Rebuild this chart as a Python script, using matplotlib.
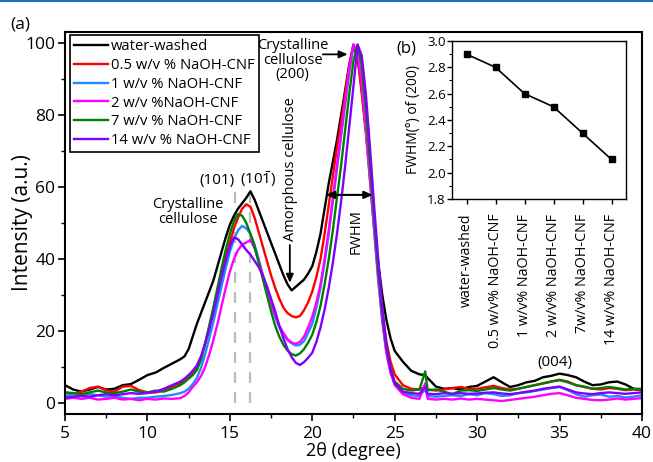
import matplotlib
matplotlib.use('Agg')
import matplotlib.pyplot as plt
from matplotlib.ticker import MultipleLocator
from matplotlib.lines import Line2D

plt.rcParams['font.family'] = ['Open Sans', 'DejaVu Sans']
plt.rcParams['mathtext.fontset'] = 'custom'
plt.rcParams['mathtext.rm'] = 'Open Sans'
plt.rcParams['mathtext.it'] = 'Open Sans:italic'
plt.rcParams['mathtext.bf'] = 'Open Sans:bold'

# ---------------- data ----------------
two_theta = [5.0, 5.5, 6.0, 6.5, 7.0, 7.5, 8.0, 8.5, 9.0, 9.5, 10.0, 10.5, 11.0, 11.5, 12.0,
             12.25, 12.5, 12.75, 13.0, 13.25, 13.5, 13.75, 14.0, 14.25, 14.5, 14.75, 15.0,
             15.25, 15.5, 15.75, 16.0, 16.25, 16.5, 16.75, 17.0, 17.25, 17.5, 17.75, 18.0,
             18.25, 18.5, 18.75, 19.0, 19.25, 19.5, 19.75, 20.0, 20.25, 20.5, 20.75, 21.0,
             21.25, 21.5, 21.75, 22.0, 22.25, 22.5, 22.75, 23.0, 23.25, 23.5, 23.75, 24.0,
             24.25, 24.5, 24.75, 25.0,
             25.5, 26.0, 26.5, 26.85, 27.0, 27.5, 28.0, 28.5, 29.0, 29.5, 30.0, 30.5, 31.0,
             31.5, 32.0, 32.5, 33.0, 33.5, 34.0, 34.5, 35.0, 35.5, 36.0, 36.5, 37.0, 37.5,
             38.0, 38.5, 39.0, 39.5, 40.0]

water_washed = [5.0, 3.8, 3.2, 3.8, 4.5, 3.8, 4.0, 5.0, 5.3, 6.5, 7.8, 8.5, 9.8, 11.0, 12.2,
                13.0, 15.0, 18.5, 22.0, 25.0, 28.0, 31.0, 34.0, 38.0, 42.0, 46.0, 49.5,
                52.0, 54.0, 55.5, 57.0, 58.8, 56.5, 53.5, 50.5, 47.5, 44.5, 41.5, 38.5,
                35.5, 33.0, 31.3, 32.3, 33.3, 34.3, 36.0, 38.0, 42.0, 47.0, 54.0, 61.0,
                67.0, 73.0, 80.0, 87.0, 94.0, 99.5, 96.0, 87.0, 76.0, 64.0, 51.0, 39.0,
                30.0, 23.0, 18.0, 14.5,
                11.5, 9.0, 8.0, 7.8, 7.0, 4.6, 4.0, 4.2, 3.8, 4.5, 4.8, 6.0, 7.2,
                5.8, 4.5, 5.0, 5.8, 6.2, 7.2, 7.6, 8.2, 7.8, 7.2, 6.0, 5.0, 5.2,
                5.8, 6.0, 5.2, 4.0, 3.6]

naoh_05 = [3.0, 2.5, 3.2, 4.2, 4.6, 3.6, 3.2, 4.6, 4.8, 3.6, 3.0, 3.0, 3.5, 4.5, 5.5,
           6.2, 7.0, 8.2, 9.5, 12.5, 16.5, 21.0, 26.0, 31.0, 36.0, 40.5, 44.5,
           48.5, 51.5, 54.0, 55.2, 54.5, 51.5, 47.5, 43.5, 39.5, 35.5, 32.0, 29.0,
           26.5, 25.0, 24.2, 23.8, 24.2, 25.8, 28.0, 31.0, 35.0, 40.0, 47.0, 55.0,
           63.0, 71.0, 78.0, 86.0, 94.0, 99.5, 96.0, 86.0, 75.0, 62.0, 49.0, 36.0,
           25.0, 17.0, 11.5, 8.0,
           5.0, 4.0, 3.8, 4.5, 3.8, 3.5, 3.8, 4.2, 4.5, 4.0, 4.0, 4.4, 4.8,
           4.2, 3.8, 4.0, 4.5, 5.0, 5.5, 6.0, 6.5, 6.0, 5.0, 4.5, 4.0, 3.8,
           4.2, 4.0, 3.6, 3.8, 3.6]

naoh_1 = [2.0, 2.5, 2.0, 2.5, 2.2, 1.8, 2.0, 1.5, 1.2, 1.5, 1.5, 1.8, 2.0, 2.3, 2.8,
          3.2, 4.0, 5.3, 7.0, 9.8, 13.5, 18.0, 22.5, 27.5, 32.5, 37.5, 42.0,
          45.5, 48.0, 49.2, 48.5, 47.0, 44.0, 40.0, 35.5, 31.5, 27.5, 24.0, 21.0,
          19.0, 17.5, 16.6, 16.0, 16.2, 17.2, 19.5, 22.0, 26.5, 32.0, 39.0, 47.0,
          56.0, 65.0, 74.0, 83.0, 92.0, 99.0, 98.0, 89.0, 76.0, 62.0, 48.0, 34.0,
          22.5, 14.0, 8.5, 5.5,
          3.0, 2.2, 2.0, 3.8, 2.0, 1.8, 2.0, 2.2, 2.0, 2.5, 2.2, 2.8, 2.5,
          2.0, 2.2, 2.8, 3.0, 3.4, 3.8, 4.2, 4.5, 3.6, 2.5, 1.8, 2.2, 2.4,
          1.8, 2.0, 1.6, 1.8, 2.2]

naoh_2 = [1.2, 1.5, 1.2, 1.5, 1.0, 1.2, 1.5, 1.0, 1.2, 0.8, 1.2, 1.0, 1.3, 1.2, 1.4,
          2.0, 3.0, 4.5, 5.8, 7.5, 10.0, 13.5, 17.5, 22.0, 27.0, 32.0, 36.5,
          40.0, 42.5, 44.0, 44.6, 45.3, 43.0, 39.5, 35.5, 31.5, 28.0, 24.5, 21.5,
          19.5, 17.8, 16.8, 16.5, 17.0, 18.5, 21.0, 24.0, 28.0, 33.0, 40.0, 48.0,
          57.0, 66.0, 75.0, 84.0, 93.0, 99.5, 97.5, 89.0, 77.0, 63.0, 49.0, 35.0,
          23.0, 14.0, 8.5, 5.0,
          2.5, 1.5, 1.2, 5.5, 1.2, 1.0, 1.2, 1.0, 1.3, 1.0, 1.2, 1.0, 0.8,
          0.6, 0.9, 1.2, 1.5, 1.8, 2.2, 2.6, 2.8, 2.2, 1.5, 1.2, 0.9, 0.8,
          1.0, 1.3, 1.0, 1.2, 1.4]

naoh_7 = [3.0, 2.8, 2.5, 3.0, 3.5, 3.0, 2.8, 3.2, 3.8, 3.2, 3.0, 3.5, 3.2, 4.0, 5.0,
          5.8, 6.8, 7.8, 9.2, 12.0, 16.5, 21.5, 26.5, 32.0, 37.5, 42.5, 47.0,
          50.5, 52.5, 52.0, 50.0, 47.0, 43.5, 39.0, 34.5, 30.0, 25.5, 21.5, 18.5,
          16.2, 14.6, 13.6, 13.2, 13.8, 15.0, 16.8, 19.0, 22.5, 27.0, 33.0, 40.0,
          48.0, 57.0, 66.0, 76.0, 86.0, 95.0, 99.5, 94.0, 82.0, 67.0, 52.0, 37.0,
          25.0, 15.5, 9.5, 6.0,
          4.0, 3.5, 3.8, 8.8, 3.6, 3.8, 3.2, 2.5, 3.5, 3.6, 3.4, 3.8, 4.2,
          3.8, 3.5, 4.0, 4.5, 5.0, 5.5, 6.0, 6.4, 5.8, 5.0, 4.6, 4.0, 4.2,
          4.5, 4.2, 3.8, 4.0, 4.0]

naoh_14 = [1.5, 1.8, 2.0, 1.8, 2.2, 2.5, 2.2, 2.5, 2.8, 2.6, 2.8, 3.2, 4.0, 5.0, 6.0,
           6.8, 7.8, 9.0, 10.5, 13.0, 16.5, 20.5, 25.0, 30.0, 35.0, 39.5, 43.5,
           46.0, 45.5, 44.0, 42.5, 41.2, 39.5, 37.8, 35.5, 32.5, 29.0, 25.5, 21.5,
           18.0, 15.0, 12.8, 11.2, 10.6, 11.4, 12.6, 14.0, 17.0, 21.0, 26.0, 32.0,
           39.0, 47.0, 56.0, 66.0, 77.0, 88.0, 99.5, 96.5, 86.0, 71.0, 55.0, 40.0,
           26.5, 16.0, 9.5, 5.5,
           3.2, 2.8, 2.6, 4.5, 2.6, 2.5, 2.8, 2.6, 2.8, 2.6, 2.7, 2.9, 3.0,
           2.7, 2.5, 2.8, 3.2, 3.5, 4.0, 4.3, 4.6, 3.8, 3.0, 2.7, 2.5, 2.8,
           3.0, 2.8, 2.6, 2.8, 3.0]

series_labels = ['water-washed', '0.5 w/v % NaOH-CNF', '1 w/v % NaOH-CNF',
                 '2 w/v %NaOH-CNF', '7 w/v % NaOH-CNF', '14 w/v % NaOH-CNF']
series_colors = ['#000000', '#ff0000', '#1e8cff', '#ff00ff', '#008000', '#8000ff']

inset_labels = ['water-washed', '0.5 w/v% NaOH-CNF', '1 w/v% NaOH-CNF',
                '2 w/v% NaOH-CNF', '7w/v% NaOH-CNF', '14 w/v% NaOH-CNF']
fwhm_200 = [2.9, 2.8, 2.6, 2.5, 2.3, 2.1]

# ---------------- figure ----------------
fig = plt.figure(figsize=(6.53, 4.62), dpi=100)
fig.add_artist(Line2D([0, 1], [0.997, 0.997], transform=fig.transFigure,
                      color='#1f6fc0', lw=1.5))

ax = fig.add_axes([0.0995, 0.1039, 0.8836, 0.8268])
series = [water_washed, naoh_05, naoh_1, naoh_2, naoh_7, naoh_14]
for ys, col, lab in zip(series, series_colors, series_labels):
    ax.plot(two_theta, ys, color=col, lw=1.7, label=lab, solid_joinstyle='round')

ax.set_xlim(5, 40)
ax.set_ylim(-3, 103)
ax.xaxis.set_major_locator(MultipleLocator(5))
ax.xaxis.set_minor_locator(MultipleLocator(2.5))
ax.yaxis.set_major_locator(MultipleLocator(20))
ax.yaxis.set_minor_locator(MultipleLocator(10))
ax.tick_params(which='major', direction='out', length=5, width=1.2, labelsize=12.5)
ax.tick_params(axis='x', which='major', pad=4)
ax.tick_params(axis='y', which='major', pad=2)
ax.tick_params(which='minor', direction='out', length=3, width=1.0)
for sp in ax.spines.values():
    sp.set_linewidth(1.5)

ax.set_ylabel('Intensity (a.u.)', fontsize=15)
ax.yaxis.set_label_coords(-0.055, 0.5)
ax.set_xlabel('2θ (degree)', fontsize=13)
ax.xaxis.set_label_coords(0.5, -0.072)

leg = ax.legend(loc='upper left', bbox_to_anchor=(0.008, 0.992), borderaxespad=0,
                fontsize=10.6, frameon=True, fancybox=False, framealpha=1,
                edgecolor='black', borderpad=0.3, labelspacing=0.25,
                handlelength=2.3, handletextpad=0.2)
leg.get_frame().set_linewidth(1.2)

# dashed reference lines for (101) and (10-1)
peak_101 = [15.34, 16.25]
for px in peak_101:
    ax.plot([px, px], [0, 61], color='#bdbdbd', lw=1.6, ls=(0, (5, 4)), zorder=0.5)

ax.text(14.19, 61.9, '(101)', fontsize=11, ha='center', va='center')
ax.text(16.70, 62.2, r'(10$\bar{\mathrm{1}}$)', fontsize=11, ha='center', va='center')
ax.text(12.45, 53, 'Crystalline\ncellulose', fontsize=10.5, ha='center', va='center',
        linespacing=1.0)
ax.text(18.82, 95.2, 'Crystalline\ncellulose\n(200)', fontsize=10.5, ha='center',
        va='center', linespacing=0.95)
ax.annotate('', xy=(22.15, 96.8), xytext=(20.64, 96.8),
            arrowprops=dict(arrowstyle='-|>,head_length=0.5,head_width=0.22',
                            color='black', lw=1.3, shrinkA=0, shrinkB=0))
ax.text(18.67, 65, 'Amorphous cellulose', fontsize=10.5, rotation=90,
        ha='center', va='center')
ax.annotate('', xy=(18.64, 33.4), xytext=(18.64, 43.9),
            arrowprops=dict(arrowstyle='-|>,head_length=0.5,head_width=0.22',
                            color='black', lw=1.3, shrinkA=0, shrinkB=0))
ax.annotate('', xy=(23.67, 57.8), xytext=(20.82, 57.8),
            arrowprops=dict(arrowstyle='<|-|>,head_length=0.5,head_width=0.22',
                            color='black', lw=1.5, shrinkA=0, shrinkB=0))
ax.text(22.64, 47.5, 'FWHM', fontsize=10.5, rotation=90, ha='center', va='center')
ax.text(34.73, 11.3, '(004)', fontsize=11, ha='center', va='center')

fig.text(0.0306, 0.946, '(a)', fontsize=12.5, ha='center', va='center')
fig.text(0.6217, 0.894, '(b)', fontsize=12, ha='center', va='center')

# ---------------- inset ----------------
axi = fig.add_axes([0.6922, 0.5693, 0.2665, 0.342])
pos = list(range(len(inset_labels)))
axi.plot(pos, fwhm_200, color='black', lw=1.2, marker='s', markersize=4.5)
axi.set_xlim(-0.5, 5.5)
axi.set_ylim(1.8, 3.0)
axi.set_xticks(pos)
axi.set_xticklabels(inset_labels, rotation=90, fontsize=10.3)
axi.yaxis.set_major_locator(MultipleLocator(0.2))
axi.yaxis.set_minor_locator(MultipleLocator(0.1))
axi.set_yticklabels([f'{v:.1f}' for v in axi.get_yticks()])
axi.tick_params(which='major', direction='out', length=3.5, width=1.0, labelsize=9.5)
axi.tick_params(axis='x', which='major', pad=7, labelsize=10.3)
axi.tick_params(axis='y', which='major', pad=1)
axi.tick_params(which='minor', direction='out', length=2, width=0.8)
for sp in axi.spines.values():
    sp.set_linewidth(1.0)
axi.set_ylabel('FWHM(°) of (200)', fontsize=10)
axi.yaxis.set_label_coords(-0.18, 0.5)

fig.savefig('out.png', dpi=100)
